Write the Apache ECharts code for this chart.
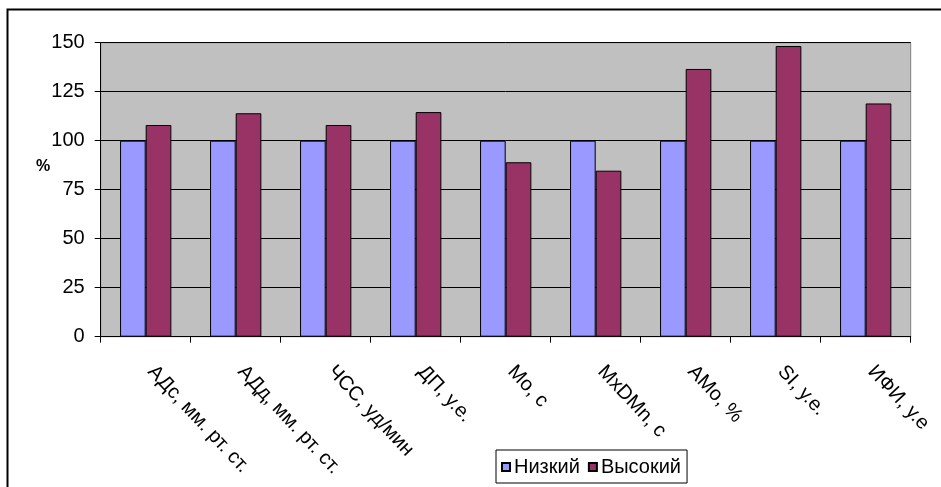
<!DOCTYPE html>
<html>
<head>
<meta charset="utf-8">
<script src="https://cdn.jsdelivr.net/npm/echarts@6/dist/echarts.min.js"></script>
<style>
  html, body { margin: 0; padding: 0; background: #fff; }
  #chart { width: 941px; height: 487px; }
</style>
</head>
<body>
<div id="chart"></div>
<script>
// Indicators compared between the two groups (low group taken as 100 %)
const categories = ['АДс, мм. рт. ст.', 'АДд, мм. рт. ст.', 'ЧСС, уд/мин', 'ДП, у.е.', 'Mo, c', 'MxDMn, c', 'AMo, %', 'SI, у.е.', 'ИФИ, у.е'];
const lowValues  = [100, 100, 100, 100, 100, 100, 100, 100, 100];
const highValues = [108, 114, 108, 114.6, 89, 84.7, 136.6, 148.3, 119];
const seriesNames = ['Низкий', 'Высокий'];
const yTicks = { min: 0, max: 150, step: 25 };

const chart = echarts.init(document.getElementById('chart'), null, { renderer: 'canvas' });
const font = 'Arial, "Liberation Sans", sans-serif';

chart.setOption({
  animation: false,
  backgroundColor: '#ffffff',
  graphic: [
    {
      type: 'rect',
      shape: { x: 7.5, y: 9.5, width: 1200, height: 1200 },
      style: { fill: 'none', stroke: '#000', lineWidth: 2 },
      silent: true
    },
    {
      type: 'text',
      left: 36, top: 159,
      style: { text: '%', font: 'bold 16px ' + font, fill: '#000' }
    }
  ],
  grid: {
    left: 100.7, right: 30.3, top: 42.7, bottom: 150.3,
    show: true, backgroundColor: '#C0C0C0', borderColor: '#808080', borderWidth: 1
  },
  legend: {
    data: seriesNames,
    left: 496, top: 450,
    padding: [7, 6, 6, 5],
    itemWidth: 8, itemHeight: 8, itemGap: 8,
    borderColor: '#000', borderWidth: 1,
    backgroundColor: '#fff',
    icon: 'rect',
    textStyle: { fontFamily: font, fontSize: 20, color: '#000', padding: [0, 0, 0, -1] }
  },
  xAxis: {
    type: 'category',
    data: categories,
    axisLine: { show: true, lineStyle: { color: '#000', width: 1 } },
    axisTick: { show: true, length: 6, alignWithLabel: false, lineStyle: { color: '#000' } },
    axisLabel: {
      interval: 0, rotate: -47, margin: 26, padding: [0, 0, 0, 8],
      fontFamily: font, fontSize: 20, color: '#000'
    },
    splitLine: { show: false }
  },
  yAxis: {
    type: 'value',
    min: yTicks.min, max: yTicks.max, interval: yTicks.step,
    axisLine: { show: true, lineStyle: { color: '#000', width: 1 } },
    axisTick: { show: true, length: 6, lineStyle: { color: '#000' } },
    axisLabel: { margin: 16, fontFamily: font, fontSize: 20, color: '#000' },
    splitLine: { show: true, lineStyle: { color: '#000', width: 1 } }
  },
  series: [
    {
      name: seriesNames[0], type: 'bar', data: lowValues,
      barGap: '0%', barCategoryGap: '43%',
      itemStyle: { color: '#9999FF', borderColor: '#000', borderWidth: 1 }
    },
    {
      name: seriesNames[1], type: 'bar', data: highValues,
      barGap: '0%', barCategoryGap: '43%',
      itemStyle: { color: '#993366', borderColor: '#000', borderWidth: 1 }
    }
  ]
});
</script>
</body>
</html>
